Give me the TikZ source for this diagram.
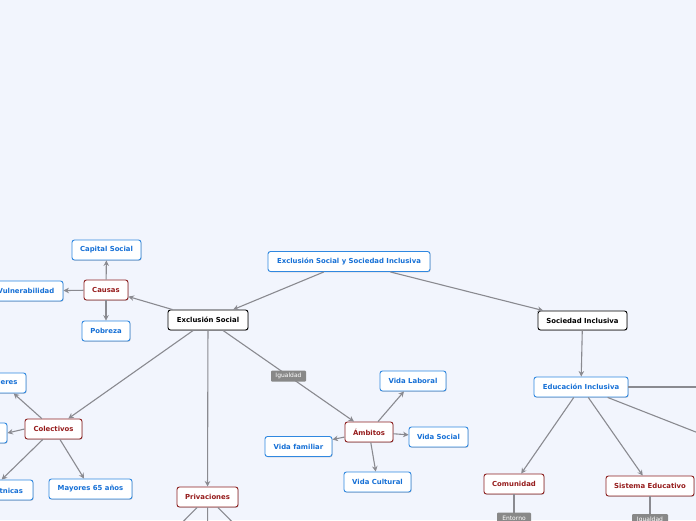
\documentclass[tikz,border=0pt]{standalone}
\usepackage{fontspec}
\setmainfont{DejaVu Sans}
\usetikzlibrary{arrows.meta,shadows}
\definecolor{bg}{RGB}{242,245,253}
\definecolor{nblue}{RGB}{48,136,224}
\definecolor{tblue}{RGB}{22,112,214}
\definecolor{nred}{RGB}{140,32,32}
\definecolor{tred}{RGB}{150,28,28}
\definecolor{lgray}{RGB}{138,138,144}
\definecolor{labgray}{RGB}{136,136,136}
\tikzset{
  box/.style={draw, fill=white, rounded corners=2.5pt, line width=0.9pt,
    minimum height=20pt, inner xsep=2pt, inner ysep=0pt,
    font=\bfseries\fontsize{6.9}{8}\selectfont,
    drop shadow={shadow xshift=0.6pt, shadow yshift=-0.8pt, opacity=0.3, fill=black!60}},
  bluebox/.style={box, draw=nblue, text=tblue},
  redbox/.style={box, draw=nred, text=tred},
  blackbox/.style={box, draw=black, text=black},
  conn/.style={draw=lgray, line width=1.1pt, -{Stealth[length=5.5pt,width=5.5pt]}},
  plainconn/.style={draw=lgray, line width=1.1pt},
  lab/.style={fill=labgray, text=white, rounded corners=1pt, inner xsep=0pt, inner ysep=0pt,
    minimum height=11pt, font=\fontsize{6}{7}\selectfont}
}
\begin{document}
\begin{tikzpicture}[x=1pt,y=-1pt]
\fill[bg] (0,0) rectangle (696,520);
\useasboundingbox (0,0) rectangle (696,520);
\clip (0,0) rectangle (696,520);

% nodes
\node[bluebox, minimum width=162pt] (title) at (349,261.5) {Exclusión Social y Sociedad Inclusiva};
\node[blackbox, minimum width=89pt, minimum height=19pt] (soc) at (582.5,320.5) {Sociedad Inclusiva};
\node[blackbox, minimum width=80pt] (exc) at (208,320) {Exclusión Social};

\node[redbox, minimum width=44pt] (cau) at (106,290) {Causas};
\node[bluebox, minimum width=69pt] (cap) at (106.5,250) {Capital Social};
\node[bluebox, minimum width=74pt] (vul) at (26,291) {Vulnerabilidad};
\node[bluebox, minimum width=48pt] (pob) at (106,331) {Pobreza};

\node[redbox, minimum width=57pt] (col) at (53.5,429) {Colectivos};
\node[bluebox, minimum width=48pt] (muj) at (2,383) {Mujeres};
\node[bluebox, minimum width=60pt] (cx) at (-23,433) {};
\node[bluebox, minimum width=84pt] (min) at (-9,490) {Minorías Étnicas};
\node[bluebox, minimum width=83pt] (may) at (90.5,489) {Mayores 65 años};

\node[redbox, minimum width=61pt] (pri) at (207.5,497) {Privaciones};
\coordinate (p1) at (155,550);
\coordinate (p2) at (208,560);
\coordinate (p3) at (260,550);

\node[redbox, minimum width=48pt] (amb) at (369,432) {Ámbitos};
\node[bluebox, minimum width=66pt] (vlab) at (413,381) {Vida Laboral};
\node[bluebox, minimum width=59pt] (vsoc) at (438.5,437) {Vida Social};
\node[bluebox, minimum width=67pt] (vfam) at (298.5,446.5) {Vida familiar};
\node[bluebox, minimum width=67pt] (vcul) at (377.5,482) {Vida Cultural};

\node[bluebox, minimum width=94pt] (edu) at (581,387) {Educación Inclusiva};
\node[redbox, minimum width=60pt] (com) at (514,484) {Comunidad};
\node[redbox, minimum width=88pt] (sis) at (650,486) {Sistema Educativo};
\coordinate (e1) at (780,387);
\coordinate (e2) at (780,465);
\coordinate (c1) at (514,560);
\coordinate (s1) at (650,560);

% connectors
\draw[conn] (title) -- (exc);
\draw[conn] (title) -- (soc);
\draw[conn] (exc) -- (cau);
\draw[conn] (cau) -- (cap);
\draw[conn] (cau) -- (vul);
\draw[conn] (cau) -- (pob);
\draw[conn] (exc) -- (col);
\draw[conn] (exc) -- (pri);
\draw[conn] (exc) -- (amb);
\draw[conn] (col) -- (muj);
\draw[conn] (col.west) -- (cx.east);
\draw[conn] (col) -- (min);
\draw[conn] (col) -- (may);
\draw[plainconn] (pri) -- (p1);
\draw[plainconn] (pri) -- (p2);
\draw[plainconn] (pri) -- (p3);
\draw[conn] (amb) -- (vlab);
\draw[conn] (amb) -- (vsoc);
\draw[conn] (amb) -- (vfam);
\draw[conn] (amb) -- (vcul);
\draw[conn] (soc) -- (edu);
\draw[plainconn] (edu) -- (e1);
\draw[plainconn] (edu) -- (e2);
\draw[conn] (edu) -- (com);
\draw[conn] (edu) -- (sis);
\draw[plainconn] (com) -- (c1);
\draw[plainconn] (sis) -- (s1);

% labels
\node[lab, minimum width=35pt] (lig) at (288.5,376) {Igualdad};
\node[lab, minimum width=34pt] (lent) at (514,518) {Entorno};
\node[lab, minimum width=36pt] (lig2) at (650,519.5) {Igualdad};
\end{tikzpicture}
\end{document}
